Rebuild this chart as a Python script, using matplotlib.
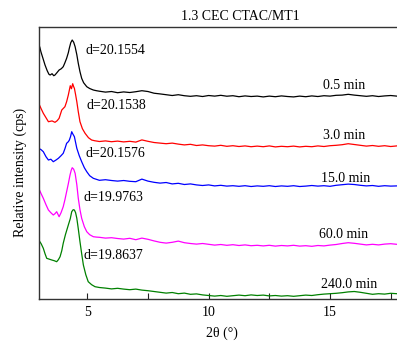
import matplotlib
matplotlib.use("Agg")
import matplotlib.pyplot as plt

plt.rcParams["font.family"] = ["Liberation Serif", "DejaVu Serif"]
plt.rcParams["font.size"] = 10

# XRD: 2theta (deg) e intensidade relativa (deslocada por amostra)
tth_tail = [5.5, 5.75, 6.0, 6.25, 6.5, 6.75, 7.0, 7.25, 7.5, 7.75,
            8.0, 8.25, 8.5, 8.75, 9.0, 9.25, 9.5, 9.75, 10.0, 10.25,
            10.5, 10.75, 11.0, 11.25, 11.5, 11.75, 12.0, 12.25, 12.5, 12.75,
            13.0, 13.25, 13.5, 13.75, 14.0, 14.25, 14.5, 14.75, 15.0, 15.25,
            15.5, 15.75, 16.0, 16.25, 16.5, 16.75, 17.0, 17.25, 17.5, 17.75]

# 0.5 min
tth_k = [3.00, 3.04, 3.09, 3.18, 3.26, 3.35, 3.42, 3.47, 3.55, 3.62, 3.67, 3.75, 3.84,
         3.93, 4.01, 4.08, 4.15, 4.22, 4.26, 4.32, 4.38, 4.44, 4.50, 4.57, 4.63, 4.70,
         4.77, 4.85, 4.98, 5.10, 5.25, 5.38]
int_k = [250.0, 252.0, 247.0, 240.0, 233.7, 228.0, 224.5, 223.7, 225.0, 223.0, 223.7, 226.0, 228.7,
         230.0, 232.0, 236.0, 240.4, 246.0, 250.4, 256.0, 258.7, 256.5, 252.0, 244.0, 235.4, 227.0,
         220.4, 216.0, 212.0, 210.2, 208.7, 208.0]
tail_k = [207.5, 206.6, 207.2, 206.0, 206.8, 206.2, 207.0, 208.0, 207.2, 205.5,
          204.8, 204.0, 203.2, 204.0, 203.0, 202.4, 203.0, 202.2, 203.2, 202.6,
          203.4, 202.5, 203.0, 202.0, 202.8, 202.2, 202.6, 201.8, 202.6, 202.0,
          202.8, 202.2, 201.8, 202.6, 202.0, 202.8, 202.2, 203.0, 202.6, 203.4,
          203.6, 204.4, 203.6, 203.0, 202.4, 203.0, 202.2, 202.8, 203.2, 202.6]

# 3.0 min
tth_r = [3.00, 3.10, 3.19, 3.30, 3.40, 3.55, 3.67, 3.76, 3.84, 3.95, 4.08, 4.15, 4.22,
         4.30, 4.35, 4.40, 4.44, 4.47, 4.52, 4.57, 4.63, 4.70, 4.80, 4.91, 5.05, 5.18, 5.30]
int_r = [195.4, 190.0, 185.4, 181.0, 177.0, 177.8, 176.4, 178.0, 180.4, 188.7, 192.0, 197.0, 203.7,
         213.0, 210.0, 215.0, 212.0, 210.4, 204.0, 197.0, 187.0, 177.0, 170.0, 165.4, 161.0, 158.7, 158.0]
tail_r = [157.2, 157.8, 157.0, 157.6, 156.8, 157.4, 156.6, 158.8, 157.4, 156.2,
          155.6, 155.0, 155.6, 154.6, 153.8, 154.4, 153.2, 153.8, 153.0, 152.6,
          153.4, 152.4, 153.0, 152.2, 152.8, 152.0, 152.6, 152.0, 152.8, 151.8,
          152.4, 152.0, 152.6, 151.8, 152.4, 152.0, 152.8, 152.2, 153.0, 153.4,
          154.0, 155.0, 154.2, 153.4, 152.6, 153.2, 152.4, 153.0, 152.2, 152.8]

# 15.0 min
tth_b = [3.00, 3.10, 3.19, 3.30, 3.40, 3.50, 3.60, 3.70, 3.81, 3.92, 4.01, 4.08, 4.15,
         4.22, 4.26, 4.31, 4.36, 4.40, 4.47, 4.57, 4.67, 4.77, 4.88, 4.98, 5.10, 5.25]
int_b = [150.4, 149.0, 147.0, 142.0, 138.7, 139.5, 137.0, 138.5, 140.4, 143.0, 145.4, 150.0, 155.4,
         157.0, 158.5, 162.0, 167.0, 165.0, 162.0, 150.4, 143.0, 137.0, 131.0, 127.0, 123.0, 120.4]
tail_b = [118.4, 119.0, 118.2, 117.6, 118.2, 117.4, 117.0, 119.6, 117.6, 116.4,
          115.6, 116.2, 114.8, 115.4, 114.2, 114.8, 113.8, 113.2, 113.8, 112.8,
          113.4, 112.6, 113.0, 112.4, 113.0, 112.2, 112.8, 112.4, 113.0, 112.2,
          112.8, 112.4, 113.0, 112.2, 112.6, 113.2, 112.6, 113.0, 112.4, 113.4,
          114.0, 114.6, 114.2, 113.4, 112.8, 113.2, 112.4, 113.0, 112.6, 112.8]

# 60.0 min
tth_m = [3.00, 3.10, 3.19, 3.30, 3.40, 3.50, 3.60, 3.67, 3.74, 3.80, 3.84, 3.92, 4.01,
         4.08, 4.15, 4.22, 4.29, 4.34, 4.38, 4.44, 4.50, 4.57, 4.63, 4.70, 4.77, 4.88,
         4.98, 5.10, 5.25, 5.38]
int_m = [110.4, 105.0, 100.4, 94.0, 88.7, 86.0, 83.7, 85.0, 87.0, 84.0, 82.0, 86.0, 92.0,
         99.0, 107.0, 115.0, 123.7, 128.5, 131.0, 129.5, 125.4, 114.0, 100.4, 89.0, 80.4, 72.0,
         67.0, 64.0, 62.0, 61.6]
tail_m = [61.4, 60.6, 61.0, 60.2, 59.6, 60.4, 59.0, 60.6, 59.4, 57.8,
          56.4, 55.6, 56.4, 57.6, 56.0, 55.2, 54.6, 55.2, 54.4, 53.6,
          54.2, 53.4, 54.0, 53.2, 53.8, 53.0, 53.4, 52.8, 53.4, 52.6,
          53.2, 52.8, 53.4, 52.6, 53.0, 52.4, 53.2, 52.8, 53.6, 54.2,
          55.2, 56.0, 55.4, 54.6, 53.8, 54.4, 53.8, 54.6, 55.0, 54.4]

# 240.0 min
tth_g = [3.00, 3.10, 3.19, 3.26, 3.33, 3.44, 3.54, 3.64, 3.74, 3.81, 3.88, 3.95, 4.01,
         4.10, 4.22, 4.30, 4.36, 4.42, 4.47, 4.52, 4.57, 4.63, 4.70, 4.77, 4.84, 4.94,
         5.04, 5.18, 5.32]
int_g = [58.7, 55.0, 50.4, 45.0, 40.4, 39.5, 38.7, 38.0, 37.0, 39.0, 42.0, 48.0, 55.4,
         64.0, 73.7, 80.0, 87.0, 89.0, 88.7, 86.0, 80.4, 70.0, 57.0, 45.0, 33.7, 24.0,
         17.0, 14.0, 12.0]
tail_g = [11.2, 10.6, 9.8, 10.4, 9.6, 9.0, 9.6, 8.6, 8.0, 7.2,
          6.4, 5.6, 6.2, 5.0, 5.6, 4.4, 4.8, 3.8, 3.2, 2.6,
          3.2, 2.4, 3.0, 3.6, 3.0, 3.8, 3.2, 3.6, 2.8, 3.2,
          2.6, 3.0, 2.4, 3.0, 3.6, 3.2, 4.0, 4.6, 5.0, 5.4,
          6.0, 6.8, 7.2, 6.4, 5.4, 4.4, 5.0, 4.6, 5.4, 5.0]

tempos = ["0.5 min", "3.0 min", "15.0 min", "60.0 min", "240.0 min"]
d_labels = ["d=20.1554", "d=20.1538", "d=20.1576", "d=19.9763", "d=19.8637"]
cores = ["black", "red", "blue", "magenta", "green"]

series = [(tth_k, int_k, tail_k), (tth_r, int_r, tail_r), (tth_b, int_b, tail_b),
          (tth_m, int_m, tail_m), (tth_g, int_g, tail_g)]

# posicoes dos textos
d_pos = [(4.91, 248.7), (4.98, 193.7), (4.91, 145.7), (4.84, 101.0), (4.84, 43.7)]
t_pos = [(15.57, 213.7), (15.57, 163.7), (15.63, 120.4), (15.57, 64.7), (15.8, 14.7)]

fig = plt.figure(figsize=(3.97, 3.42), dpi=100)
ax = fig.add_axes([0.0975, 0.1266, 0.9227, 0.7944])

for (xh, yh, yt), cor in zip(series, cores):
    ax.plot(list(xh) + tth_tail, list(yh) + yt, color=cor, linewidth=0.9)

for lab, (x, y) in zip(d_labels, d_pos):
    ax.text(x, y, lab, ha="left", va="center", fontsize=10)
for lab, (x, y) in zip(tempos, t_pos):
    ax.text(x, y, lab, ha="center", va="center", fontsize=10)

ax.set_xlim(3.0, 18.09)
ax.set_ylim(0, 271.7)
ax.set_xticks([5, 10, 15])
ax.set_xticks([7.5, 12.5, 17.5], minor=True)
ax.set_yticks([])
ax.tick_params(axis="x", which="both", direction="in", length=4, width=0.8, pad=5, colors="#222222")
ax.tick_params(axis="x", labelcolor="black")
for s in ax.spines.values():
    s.set_linewidth(1.0)
    s.set_color("#333333")

ax.set_xlabel("2θ (°)", labelpad=6)
ax.set_ylabel("Relative intensity (cps)")
ax.yaxis.set_label_coords(-0.031, 0.466)
ax.annotate("1.3 CEC CTAC/MT1", xy=(11.29, 1.0), xycoords=("data", "axes fraction"),
            xytext=(0, 3), textcoords="offset points", ha="center", va="bottom", fontsize=10)

plt.savefig("out.png", dpi=100)
